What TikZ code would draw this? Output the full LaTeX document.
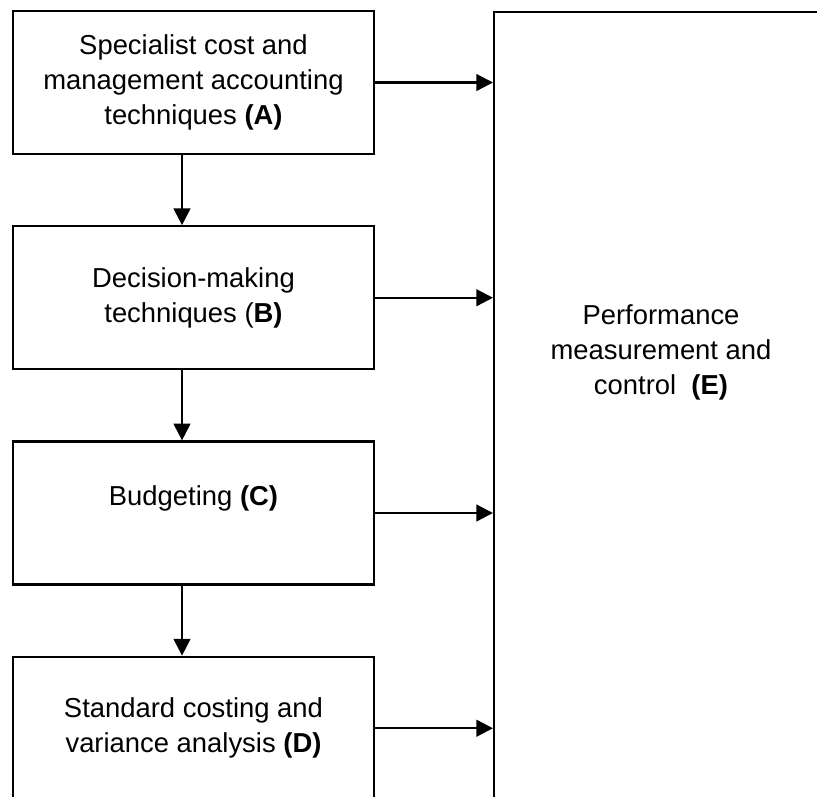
\documentclass[tikz,border=0pt]{standalone}
\usepackage{fontspec}
\setmainfont{Liberation Sans}
\usetikzlibrary{positioning, arrows.meta}

\begin{document}
\begin{tikzpicture}[x = 0.02cm, y = -0.02cm,
	txt/.style = {align = center, font = \fontsize{15.6}{19.9}\selectfont},
	box/.style = {txt, draw, line width = 1.3pt, minimum width = 7.22cm, minimum height = 2.86cm, inner sep = 0pt},
	arr/.style = {line width = 1.3pt, -{Triangle[length = 9.5pt, width = 9.5pt]}},
	node distance = 1.40cm]
	\useasboundingbox (0,0) rectangle (817,796);
	\clip (0,0) rectangle (817,796);

	\node[box](A) at (193.5,82.5){Specialist cost and\\management accounting\\techniques \textbf{(A)}};	%A
	\node[box, below = of A](B){Decision-making\\techniques (\textbf{B)}};	%B
	\node[box, below = of B](C){Budgeting \textbf{(C)}\\ \mbox{}};	%C
	\node[box, below = of C](D){Standard costing and\\variance analysis \textbf{(D)}};	%D

	\node[box, anchor = north west, minimum width = 7cm, minimum height = 17cm](E) at (493,11){};	%E
	\node[txt](Etxt) at (661,352){Performance\\measurement and\\control\ \ \textbf{(E)}};

	\draw[arr] ([xshift = -0.23cm]A.south) -- ([xshift = -0.23cm]B.north);
	\draw[arr] ([xshift = -0.23cm]B.south) -- ([xshift = -0.23cm]C.north);
	\draw[arr] ([xshift = -0.23cm]C.south) -- ([xshift = -0.23cm]D.north);
	\foreach \n in {A,B,C,D}
		\draw[arr] (\n.east) -- (\n.east -| E.west);
\end{tikzpicture}
\end{document}
